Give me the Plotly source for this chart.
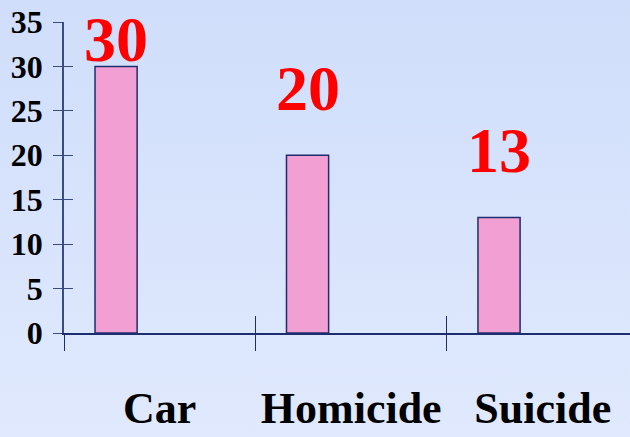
import base64
import plotly.graph_objects as go

categories = ["Car", "Homicide", "Suicide"]
values = [30, 20, 13]
value_labels = ["30", "20", "13"]
y_ticks = [0, 5, 10, 15, 20, 25, 30, 35]

# styling
W, H = 630, 437
ML, MR, MT, MB = 64, 0, 22, 104
bar_offset = -0.338
bar_width = 0.22
label_yshift = [-11, 29, 29]
navy = "#1e2d6e"
serif = "Liberation Serif, Times New Roman, serif"

xpos = list(range(len(categories)))
xrange_ = [-0.5, 2.456]
bounds = [i - 0.5 for i in range(len(categories) + 1)]

pw, ph = W - ML - MR, H - MT - MB

svg = ('<svg xmlns="http://www.w3.org/2000/svg" width="10" height="100" preserveAspectRatio="none">'
       '<defs><linearGradient id="g" x1="0" y1="0" x2="0" y2="1">'
       '<stop offset="0" stop-color="#d0defb"/><stop offset="1" stop-color="#e0e9fd"/>'
       '</linearGradient></defs><rect width="10" height="100" fill="url(#g)"/></svg>')
bg = "data:image/svg+xml;base64," + base64.b64encode(svg.encode()).decode()

fig = go.Figure()
fig.add_trace(go.Bar(
    x=xpos, y=values, width=bar_width, offset=bar_offset,
    marker=dict(color="#f2a0d3", line=dict(color=navy, width=1.5)),
    hoverinfo="skip",
))

for i, (v, t) in enumerate(zip(values, value_labels)):
    fig.add_annotation(
        x=i + bar_offset + bar_width / 2, y=v, text=t, showarrow=False,
        xref="x", yref="y", yanchor="bottom", yshift=label_yshift[i],
        font=dict(family=serif, size=64, color="#ff0000", weight="bold"),
    )

fig.update_layout(
    width=W, height=H,
    margin=dict(l=ML, r=MR, t=MT, b=MB, autoexpand=False),
    paper_bgcolor="#d8e4fc",
    plot_bgcolor="rgba(0,0,0,0)",
    showlegend=False,
    images=[dict(source=bg, xref="paper", yref="paper",
                 x=-ML / pw, y=1 + MT / ph, sizex=W / pw, sizey=H / ph,
                 xanchor="left", yanchor="top", sizing="stretch", layer="below")],
    xaxis=dict(
        range=xrange_, tickvals=xpos, ticktext=categories, ticks="",
        showline=True, linecolor=navy, linewidth=1.5, showgrid=False, zeroline=False,
        ticklabelstandoff=35, automargin=False,
        tickfont=dict(family=serif, size=44, color="#000000", weight="bold"),
    ),
    xaxis2=dict(
        range=xrange_, overlaying="x", anchor="y", side="bottom", automargin=False,
        tickvals=bounds, ticks="outside", ticklen=17, tickwidth=1.3, tickcolor=navy,
        showticklabels=False, showgrid=False, zeroline=False, showline=False,
    ),
    xaxis3=dict(
        range=xrange_, overlaying="x", anchor="y", side="bottom", automargin=False,
        tickvals=bounds, ticks="inside", ticklen=17, tickwidth=1.3, tickcolor=navy,
        showticklabels=False, showgrid=False, zeroline=False, showline=False,
    ),
    yaxis=dict(
        range=[0, 35], tickvals=y_ticks, ticks="outside", ticklen=9, tickwidth=1.3,
        tickcolor="#3a4a82", showline=True, linecolor="#3a4a82", linewidth=1.5,
        showgrid=False, zeroline=False, ticklabelstandoff=4, automargin=False,
        tickfont=dict(family=serif, size=32, color="#000000", weight="bold"),
    ),
    yaxis2=dict(
        range=[0, 35], overlaying="y", anchor="x", side="left", automargin=False,
        tickvals=y_ticks, ticks="inside", ticklen=9, tickwidth=1.3, tickcolor="#3a4a82",
        showticklabels=False, showgrid=False, zeroline=False, showline=False,
    ),
)

# invisible traces to activate overlay axes
fig.add_trace(go.Scatter(x=[None], y=[None], xaxis="x2", yaxis="y", hoverinfo="skip"))
fig.add_trace(go.Scatter(x=[None], y=[None], xaxis="x3", yaxis="y2", hoverinfo="skip"))

fig.write_html("out.html", config={"displayModeBar": False},
               post_script="document.body.style.margin='0';")
